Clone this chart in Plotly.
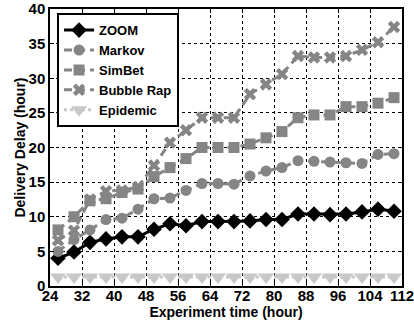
import plotly.graph_objects as go

hours = [26, 30, 34, 38, 42, 46, 50, 54, 58, 62, 66, 70, 74, 78, 82, 86, 90, 94, 98, 102, 106, 110]
zoom = [4.0, 4.9, 6.3, 6.8, 7.1, 7.1, 8.2, 9.0, 8.7, 9.3, 9.3, 9.3, 9.4, 9.6, 9.6, 10.4, 10.4, 10.3, 10.4, 10.7, 11.1, 10.8]
markov = [5.0, 6.7, 8.1, 9.6, 9.8, 11.1, 12.6, 12.7, 13.8, 14.8, 14.8, 14.7, 15.9, 16.6, 17.1, 18.1, 18.0, 17.9, 17.8, 17.7, 19.0, 19.1]
simbet = [8.1, 10.0, 12.3, 12.6, 13.5, 14.0, 15.8, 17.1, 18.4, 20.0, 20.0, 20.0, 20.5, 21.4, 22.3, 24.3, 24.7, 24.7, 25.9, 25.9, 26.4, 27.2]
bubble = [6.6, 8.0, 12.5, 13.7, 13.8, 14.3, 17.4, 20.7, 22.5, 24.3, 24.3, 24.3, 27.7, 29.1, 30.6, 33.2, 33.0, 33.0, 33.2, 34.1, 35.2, 37.4]
epidemic = [1.3] * 22

x_ticks = list(range(24, 113, 8))
y_ticks = list(range(0, 41, 5))

GREY = "#858585"
LIGHT = "#c8c8c8"
FAM = "Liberation Sans, Arial, sans-serif"

fig = go.Figure()
fig.add_trace(go.Scatter(x=hours, y=zoom, name="ZOOM", mode="lines+markers",
                         line=dict(color="black", width=3),
                         marker=dict(symbol="diamond", size=12, color="black")))
fig.add_trace(go.Scatter(x=hours, y=markov, name="Markov", mode="lines+markers",
                         line=dict(color=GREY, width=3, dash="8px,5px"),
                         marker=dict(symbol="circle", size=11, color=GREY)))
fig.add_trace(go.Scatter(x=hours, y=simbet, name="SimBet", mode="lines+markers",
                         line=dict(color=GREY, width=3, dash="8px,5px"),
                         marker=dict(symbol="square", size=11, color=GREY)))
fig.add_trace(go.Scatter(x=hours, y=bubble, name="Bubble Rap", mode="lines+markers",
                         line=dict(color=GREY, width=3, dash="8px,5px"),
                         marker=dict(symbol="x", size=11, color=GREY)))
fig.add_trace(go.Scatter(x=hours, y=epidemic, name="Epidemic", mode="lines+markers",
                         line=dict(color=LIGHT, width=3, dash="dot"),
                         marker=dict(symbol="triangle-down", size=14, color=LIGHT)))

tick_font = dict(family=FAM, size=15, color="black", weight="bold")
title_font = dict(family=FAM, size=14, color="black", weight="bold")

fig.update_layout(
    width=414, height=327,
    margin=dict(l=50, r=12, t=9, b=41),
    paper_bgcolor="white", plot_bgcolor="white",
    font=tick_font,
    showlegend=True,
    legend=dict(x=0.02, y=0.985, xanchor="left", yanchor="top",
                bgcolor="white", bordercolor="black", borderwidth=2,
                font=dict(family=FAM, size=13, color="black", weight="bold"),
                tracegroupgap=0),
    xaxis=dict(range=[24, 112], tickmode="array", tickvals=x_ticks,
               ticktext=[str(v) for v in x_ticks],
               showgrid=True, gridcolor="black", griddash="dot", gridwidth=1,
               showline=True, linecolor="black", linewidth=1.5, mirror="ticks",
               ticks="inside", ticklen=4, tickcolor="black",
               zeroline=False, automargin=False,
               ticklabeloverflow="allow", ticklabelstandoff=-5,
               title=dict(text="Experiment time (hour)", standoff=0, font=title_font),
               tickfont=tick_font),
    yaxis=dict(range=[0, 40], tickmode="array", tickvals=y_ticks,
               ticktext=[str(v) for v in y_ticks],
               showgrid=True, gridcolor="black", griddash="dot", gridwidth=1,
               showline=True, linecolor="black", linewidth=1.5, mirror="ticks",
               ticks="inside", ticklen=4, tickcolor="black",
               zeroline=False, automargin=False,
               ticklabeloverflow="allow",
               title=dict(text="Delivery Delay (hour)", standoff=0, font=title_font),
               tickfont=tick_font),
)

fig.write_html("out.html")
